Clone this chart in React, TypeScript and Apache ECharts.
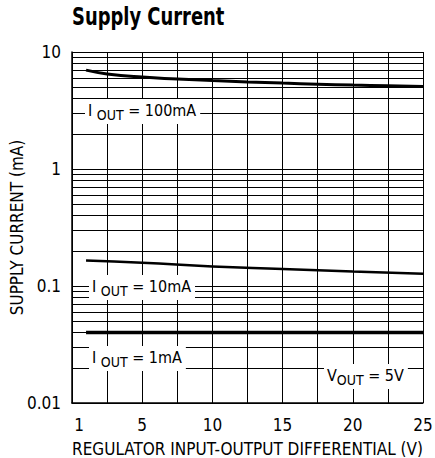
import React, { useEffect, useRef } from "react";
import * as echarts from "echarts";

const titleText = "Supply Current";
const xAxisName = "REGULATOR INPUT-OUTPUT DIFFERENTIAL (V)";
const yAxisName = "SUPPLY CURRENT (mA)";

const iout100X = [1, 2.5, 5, 7.5, 10, 12.5, 15, 17.5, 20, 22.5, 25];
const iout100Y = [7.0, 6.5, 6.1, 5.88, 5.7, 5.55, 5.42, 5.31, 5.22, 5.15, 5.08];
const iout10X = [1, 5, 10, 15, 20, 25];
const iout10Y = [0.165, 0.158, 0.147, 0.14, 0.133, 0.127];
const iout1X = [1, 25];
const iout1Y = [0.04, 0.04];

// tick label positions on the x axis and their texts
const xTickValues = [0.5, 5, 10, 15, 20, 25];
const xTickTexts = ["1", "5", "10", "15", "20", "25"];
const minorGridValues = [
  0.02, 0.03, 0.04, 0.05, 0.06, 0.07, 0.08, 0.09,
  0.2, 0.3, 0.4, 0.5, 0.6, 0.7, 0.8, 0.9,
  2, 3, 4, 5, 6, 7, 8, 9,
];

const FONT = "'DejaVu Sans Condensed', 'Liberation Sans', sans-serif";

function pairs(xs: number[], ys: number[]) {
  return xs.map((x, i) => [x, ys[i]]);
}

function labelText(x: number, y: number, main: string, rest: string, gap: string) {
  return {
    type: "text",
    x,
    y,
    z: 100,
    style: {
      text: `{a|${main}${gap}}{s|OUT}{a| ${rest}}`,
      backgroundColor: "#fff",
      padding: [3, 4, 4, 3],
      rich: {
        a: { fontFamily: FONT, fontSize: 16, lineHeight: 18, verticalAlign: "top", fill: "#000" },
        s: { fontFamily: FONT, fontSize: 14, lineHeight: 18, padding: [6, 0, 0, 0], verticalAlign: "top", fill: "#000" },
      },
    },
  };
}

export default function App() {
  const ref = useRef<HTMLDivElement>(null);
  useEffect(() => {
    if (!ref.current) return;
    const chart = echarts.init(ref.current, null, { renderer: "svg" });
    chart.setOption({
      animation: false,
      backgroundColor: "#fff",
      grid: { left: 72, right: 12, top: 52, bottom: 55, containLabel: false, outerBoundsMode: "none" },
      xAxis: {
        type: "value",
        min: 0,
        max: 25,
        interval: 2.5,
        name: xAxisName,
        nameLocation: "middle",
        nameGap: 37,
        nameMoveOverlap: false,
        nameTextStyle: { fontFamily: FONT, fontSize: 17, color: "#000" },
        axisLine: { show: true, lineStyle: { color: "#000", width: 1.5 } },
        axisTick: { show: false },
        splitLine: { show: true, lineStyle: { color: "#000", width: 1 } },
        axisLabel: {
          margin: 13,
          fontFamily: FONT,
          fontSize: 17,
          color: "#000",
          customValues: xTickValues,
          formatter: (v: number) => {
            const i = xTickValues.indexOf(v);
            return i >= 0 ? xTickTexts[i] : "";
          },
        },
      },
      yAxis: {
        type: "log",
        logBase: 10,
        min: 0.01,
        max: 10,
        name: yAxisName,
        nameLocation: "middle",
        nameGap: 47,
        nameMoveOverlap: false,
        nameTextStyle: { fontFamily: FONT, fontSize: 17, color: "#000" },
        axisLine: { show: true, lineStyle: { color: "#000", width: 1.5 } },
        axisTick: { show: false },
        splitLine: { show: true, lineStyle: { color: "#000", width: 1 } },
        axisLabel: {
          margin: 11,
          fontFamily: FONT,
          fontSize: 17,
          color: "#000",
          formatter: (v: number) => String(+v.toPrecision(3)),
        },
      },
      series: [
        {
          type: "line",
          data: [],
          silent: true,
          markLine: {
            silent: true,
            symbol: "none",
            label: { show: false },
            lineStyle: { color: "#000", width: 1, type: "solid" },
            data: minorGridValues.map((v) => ({ yAxis: v })),
          },
          z: 1,
        },
        {
          type: "line",
          name: "IOUT = 100mA",
          data: pairs(iout100X, iout100Y),
          smooth: true,
          showSymbol: false,
          lineStyle: { color: "#000", width: 3 },
          z: 5,
        },
        {
          type: "line",
          name: "IOUT = 10mA",
          data: pairs(iout10X, iout10Y),
          smooth: true,
          showSymbol: false,
          lineStyle: { color: "#000", width: 2.5 },
          z: 5,
        },
        {
          type: "line",
          name: "IOUT = 1mA",
          data: pairs(iout1X, iout1Y),
          showSymbol: false,
          lineStyle: { color: "#000", width: 3.5 },
          z: 5,
        },
      ],
      graphic: [
        {
          type: "text",
          x: 72,
          y: 5,
          scaleX: 0.83,
          z: 100,
          style: {
            text: titleText,
            fontFamily: FONT,
            fontSize: 24,
            fontWeight: "bold",
            fill: "#000",
          },
        },
        labelText(85, 99, "I", "= 100mA", " "),
        labelText(89, 275, "I", "= 10mA", " "),
        labelText(89, 346, "I", "= 1mA", " "),
        labelText(324, 364, "V", "= 5V", ""),
      ],
    });
    return () => chart.dispose();
  }, []);
  return (
    <div
      ref={ref}
      style={{ position: "fixed", left: 0, top: 0, width: 435, height: 458, background: "#fff" }}
    />
  );
}
